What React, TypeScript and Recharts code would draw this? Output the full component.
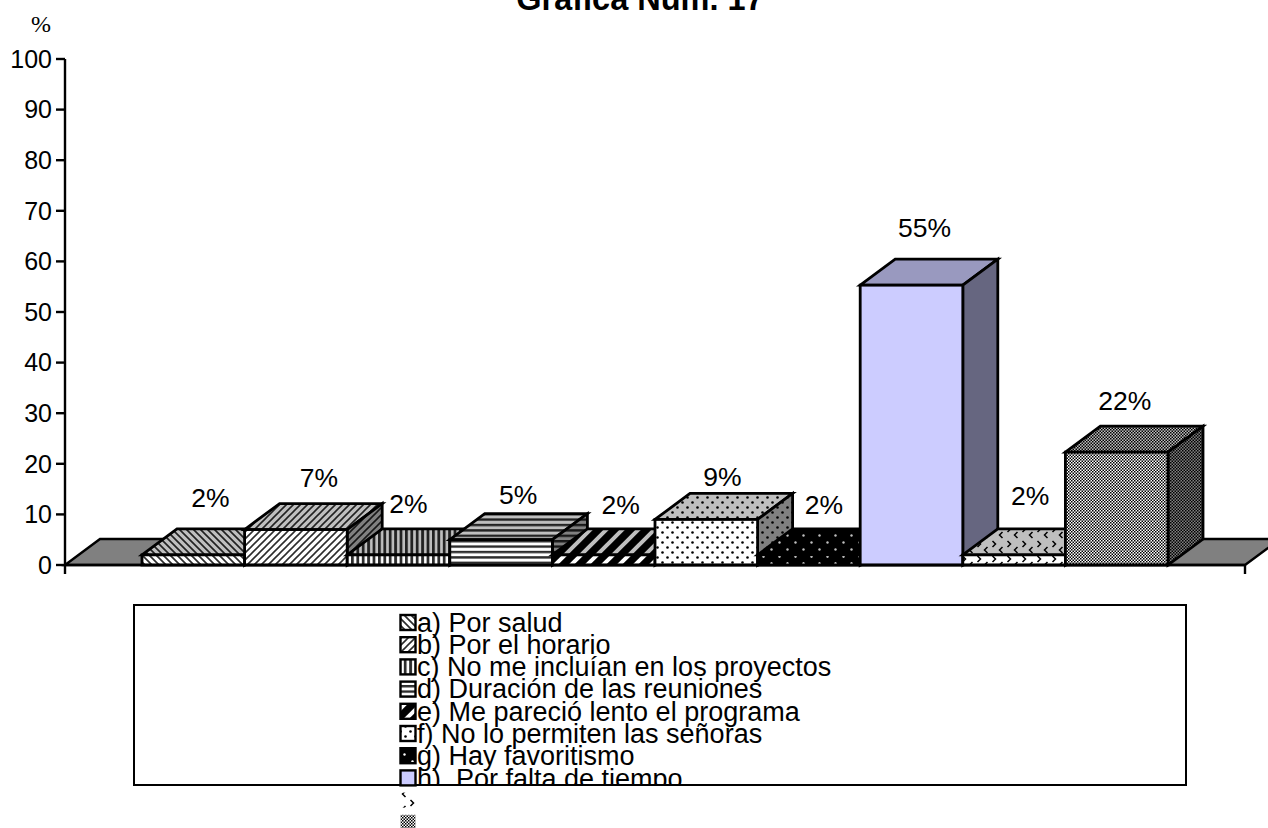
import React from "react";
import { BarChart, Bar, XAxis, YAxis, Legend, LabelList, ReferenceArea } from "recharts";

const seriesKeys = ["a", "b", "c", "d", "e", "f", "g", "h", "i", "j"];
const seriesNames = [
  "a) Por salud",
  "b) Por el horario",
  "c) No me incluían en los proyectos",
  "d) Duración de las reuniones",
  "e) Me pareció lento el programa",
  "f) No lo permiten las señoras",
  "g) Hay favoritismo",
  "h)  Por falta de tiempo",
  "",
  "",
];
const seriesValues = [2, 7, 2, 5, 2, 9, 2, 55.3, 2, 22.3];
const yTicks = [0, 10, 20, 30, 40, 50, 60, 70, 80, 90, 100];
const titleText = "Gráfica Núm. 17";
const unitText = "%";

const chartData = [
  seriesKeys.reduce((row: Record<string, number | string>, key, i) => {
    row[key] = seriesValues[i];
    return row;
  }, { category: "" }),
];

// Style / layout constants
const DX = 35;
const DY = 26;
const FONT = "'Liberation Sans', Arial, sans-serif";
const labelNudgeX = [17, 23, 10, 17, 17, 16, 15, 13, 16, 8];
const labelNudgeY = [-57, -52, -51, -45, -50, -42, -50, -57.5, -59, -51.5];
const faces = [
  { name: "front", k: 1 },
  { name: "top", k: 0.75 },
  { name: "side", k: 0.5 },
];

const shade = (rgb: number[], k: number) =>
  `rgb(${rgb.map((c) => Math.round(c * k)).join(",")})`;
const WHITE = [255, 255, 255];
const BLACK = [0, 0, 0];
const INK = [45, 45, 45];

function patternBody(i: number, k: number) {
  const w = shade(WHITE, k);
  const b = shade(BLACK, k);
  const g = shade(INK, k);
  switch (i) {
    case 0:
      return { s: [7, 7], el: (
        <>
          <rect width={7} height={7} fill={w} />
          <path d="M-2,5 L2,9 M-2,-2 L9,9 M5,-2 L9,2" stroke={g} strokeWidth={1.7} />
        </>
      ) };
    case 1:
      return { s: [7, 7], el: (
        <>
          <rect width={7} height={7} fill={w} />
          <path d="M-2,2 L2,-2 M-2,9 L9,-2 M5,9 L9,5" stroke={g} strokeWidth={1.6} />
        </>
      ) };
    case 2:
      return { s: [5.4, 8], el: (
        <>
          <rect width={5.4} height={8} fill={w} />
          <rect x={0} width={2.8} height={8} fill={g} />
        </>
      ) };
    case 3:
      return { s: [8, 5.4], el: (
        <>
          <rect width={8} height={5.4} fill={w} />
          <rect y={0} width={8} height={2.4} fill={g} />
        </>
      ) };
    case 4:
      return { s: [16, 16], el: (
        <>
          <rect width={16} height={16} fill={b} />
          <path d="M-4,4 L4,-4 M-4,20 L20,-4 M12,20 L20,12" stroke={w} strokeWidth={4} />
        </>
      ) };
    case 5:
      return { s: [10, 10], el: (
        <>
          <rect width={10} height={10} fill={w} />
          <circle cx={2.5} cy={2.5} r={1.3} fill={b} />
          <circle cx={7.5} cy={7.5} r={1.3} fill={b} />
        </>
      ) };
    case 6:
      return { s: [16, 14], el: (
        <>
          <rect width={16} height={14} fill={b} />
          <circle cx={3.5} cy={3.5} r={1.2} fill={w} />
          <circle cx={11.5} cy={10.5} r={1.2} fill={w} />
        </>
      ) };
    case 7:
      return { s: [8, 8], el: <rect width={8} height={8} fill={shade([204, 204, 255], k)} /> };
    case 8:
      return { s: [15, 15], el: (
        <>
          <rect width={15} height={15} fill={w} />
          <path d="M2.5,1 L5.5,4 L2.5,7" fill="none" stroke={b} strokeWidth={1.5} />
          <path d="M12.5,7 L9.5,10 L12.5,13" fill="none" stroke={b} strokeWidth={1.5} />
        </>
      ) };
    default:
      return { s: [3, 3], el: (
        <>
          <rect width={3} height={3} fill={w} />
          <rect width={1.5} height={1.5} fill={b} />
          <rect x={1.5} y={1.5} width={1.5} height={1.5} fill={b} />
        </>
      ) };
  }
}

const Patterns = () => (
  <defs>
    {seriesKeys.flatMap((key, i) =>
      faces.map((f) => {
        const p = patternBody(i, f.k);
        return (
          <pattern
            key={`${key}-${f.name}`}
            id={`p-${key}-${f.name}`}
            patternUnits="userSpaceOnUse"
            width={p.s[0]}
            height={p.s[1]}
          >
            {p.el}
          </pattern>
        );
      })
    )}
  </defs>
);

const Box = (props: any) => {
  const { x, y, width: w, height: h, seriesKey } = props;
  const common = { stroke: "#000", strokeWidth: 2.8, strokeLinejoin: "miter" as const };
  return (
    <g>
      <polygon
        points={`${x},${y} ${x + DX},${y - DY} ${x + w + DX},${y - DY} ${x + w},${y}`}
        fill={`url(#p-${seriesKey}-top)`}
        {...common}
      />
      <polygon
        points={`${x + w},${y} ${x + w + DX},${y - DY} ${x + w + DX},${y + h - DY} ${x + w},${y + h}`}
        fill={`url(#p-${seriesKey}-side)`}
        {...common}
      />
      <rect x={x} y={y} width={w} height={h} fill={`url(#p-${seriesKey}-front)`} {...common} />
    </g>
  );
};

const Floor = (props: any) => {
  const { x, y, width: w, height: h } = props;
  const base = y + h;
  return (
    <polygon
      points={`${x},${base} ${x + DX},${base - DY} ${x + w + DX},${base - DY} ${x + w},${base}`}
      fill="#808080"
      stroke="#000"
      strokeWidth={2.4}
    />
  );
};

const EdgeTicks = (props: any) => {
  const { x, y, width: w } = props;
  return (
    <g stroke="#000" strokeWidth={2.4}>
      <line x1={x - w / 2} x2={x - w / 2} y1={y - 8} y2={y + 1} />
      <line x1={x + w / 2} x2={x + w / 2} y1={y - 8} y2={y + 1} />
    </g>
  );
};

const makeLabel = (i: number) => (props: any) => {
  const { x, y, width, value } = props;
  return (
    <text
      x={x + width / 2 + labelNudgeX[i]}
      y={y + labelNudgeY[i]}
      textAnchor="middle"
      dominantBaseline="central"
      fontFamily={FONT}
      fontSize={26.5}
      fill="#000"
    >
      {`${Math.round(Number(value))}%`}
    </text>
  );
};

const LegendBox = (props: any) => {
  const items: any[] = props.payload || [];
  const order = items.map((it) => seriesKeys.indexOf(String(it.dataKey)));
  return (
    <div style={{ position: "relative", width: 1054, height: 182, fontFamily: FONT, fontSize: 27, color: "#000" }}>
      <div style={{ position: "absolute", left: 0, top: 0, width: 1054, height: 182, background: "#fff" }} />
      <div style={{ position: "absolute", left: 0, top: 0, width: 1054, height: 182, overflow: "hidden" }}>
        {order.map((i) => (
          <div
            key={i}
            style={{
              position: "absolute",
              left: 284,
              top: 5.5 + 22.3 * i,
              lineHeight: "26px",
              height: 26,
              whiteSpace: "pre",
            }}
          >
            {seriesNames[i]}
          </div>
        ))}
      </div>
      <div
        style={{
          position: "absolute",
          left: 0,
          top: 0,
          width: 1054,
          height: 182,
          boxSizing: "border-box",
          border: "2.5px solid #000",
        }}
      />
      <svg width={60} height={240} style={{ position: "absolute", left: 260, top: 0, overflow: "visible" }}>
        {order.map((i) => (
          <rect
            key={i}
            x={7.5}
            y={11 + 22.2 * i}
            width={15}
            height={15}
            fill={`url(#p-${seriesKeys[i]}-front)`}
            stroke={i >= 8 ? "none" : "#000"}
            strokeWidth={2.4}
          />
        ))}
      </svg>
    </div>
  );
};

export default function App() {
  return (
    <div style={{ position: "absolute", left: 0, top: 0, width: 1268, height: 828, overflow: "hidden", background: "#fff" }}>
      <BarChart
        width={1268}
        height={828}
        data={chartData}
        margin={{ top: 59, right: 23, bottom: 0, left: 0 }}
        barGap={0}
        style={{ fontFamily: FONT }}
      >
        <Patterns />
        <ReferenceArea y1={0} y2={0.001} shape={<Floor />} ifOverflow="visible" />
        <XAxis
          dataKey="category"
          height={263}
          axisLine={{ stroke: "#000", strokeWidth: 2.4 }}
          tickLine={false}
          tick={<EdgeTicks />}
          interval={0}
        />
        <YAxis
          domain={[0, 100]}
          ticks={yTicks}
          interval={0}
          width={65}
          tickSize={9}
          tickMargin={4}
          axisLine={{ stroke: "#000", strokeWidth: 2.4 }}
          tickLine={{ stroke: "#000", strokeWidth: 2.4 }}
          tick={{ fontSize: 25, fill: "#000", fontFamily: FONT }}
        />
        {seriesKeys.map((key, i) => (
          <Bar
            key={key}
            dataKey={key}
            name={seriesNames[i] || key}
            barSize={102.6}
            isAnimationActive={false}
            shape={(p: any) => <Box {...p} seriesKey={key} />}
          >
            <LabelList dataKey={key} content={makeLabel(i)} />
          </Bar>
        ))}
        <Legend
          content={<LegendBox />}
          layout="vertical"
          align="center"
          verticalAlign="middle"
          itemSorter="dataKey"
          wrapperStyle={{ position: "absolute", left: 133, top: 604, width: 1054, height: 182, margin: 0 }}
        />
        <text x={640} y={10} textAnchor="middle" fontFamily={FONT} fontSize={32.5} fontWeight="bold" fill="#000">
          {titleText}
        </text>
        <text x={41} y={32} textAnchor="middle" fontFamily="'Liberation Serif', serif" fontSize={24} fill="#000">
          {unitText}
        </text>
      </BarChart>
    </div>
  );
}
